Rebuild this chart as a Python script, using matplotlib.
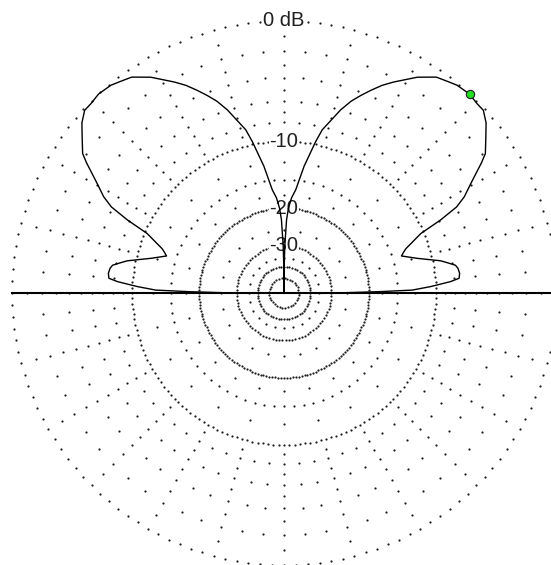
"""Elevation pattern on an ARRL log polar grid."""
import numpy as np
import matplotlib
matplotlib.use("Agg")
import matplotlib.pyplot as plt

# pattern, elevation angle (deg) vs gain (dB, 0 = max)
elev_deg = [0, 0.3, 0.8, 1.3, 2.5, 3.9, 4.8, 6.4, 8.1, 9.2,
            10.4, 11.6, 14.6, 17.5, 19, 20, 23.5, 25, 26.5, 28.1,
            30.4, 33.4, 34.7, 37.7, 40.1, 42.5, 44.5, 47, 50.2, 52.4,
            54.8, 58.3, 62.5, 64.7, 66.8, 68.8, 70.7, 72.8, 74.8, 76.8,
            78.2, 81, 83.5, 85.5, 87, 88, 89, 89.6, 90,
            90.4, 91, 92, 93, 94.5, 96.5, 99, 101.8, 103.2, 105.2,
            107.2, 109.3, 111.2, 113.2, 115.3, 117.5, 121.7, 125.2, 127.6, 129.8,
            133, 135.5, 137.5, 139.9, 142.3, 145.3, 146.6, 149.6, 151.9, 153.5,
            155, 156.5, 160, 161, 162.5, 165.4, 168.4, 169.6, 170.8, 171.9,
            173.6, 175.2, 176.1, 177.5, 178.7, 179.2, 179.7, 180]
gain_db = [-33, -25.4, -18.1, -12.9, -10.6, -8.4, -7.5, -7.4, -7.5, -7.7,
           -8.4, -9.1, -11.7, -13.6, -13.1, -12.7, -10.3, -7.8, -5.9, -4.9,
           -3.9, -2.4, -1.8, -1.1, -0.5, -0.1, -0.1, 0, -0.1, -0.3,
           -0.5, -1.2, -2.3, -2.9, -3.6, -4.3, -5.0, -6.0, -7.2, -8.3,
           -9.7, -12.9, -16.5, -18.0, -20.0, -22.5, -30, -40, -99,
           -40, -30, -22.5, -20.0, -18.0, -16.5, -12.9, -9.7, -8.3, -7.2,
           -6.0, -5.0, -4.3, -3.6, -2.9, -2.3, -1.2, -0.5, -0.3, -0.1,
           0, -0.1, -0.1, -0.5, -1.1, -1.8, -2.4, -3.9, -4.9, -5.9,
           -7.8, -10.3, -12.7, -13.1, -13.6, -11.7, -9.1, -8.4, -7.7, -7.5,
           -7.4, -7.5, -8.4, -10.6, -12.9, -18.1, -25.4, -33]
max_elev = 47
max_gain = 0

label_db = [0, -10, -20, -30]
label_text = ["0 dB", "-10", "-20", "-30"]

# grid rings: dB level and angular spacing of their dots (deg)
dense_db = [-10, -20, -30, -40, -50]
dense_step = [2, 2, 4, 6, 11]
sparse_db = [0, -1, -2, -3, -4, -5, -6, -7, -8, -9,
             -12.5, -15, -17.5, -25, -35]
sparse_step = [2.5, 15, 5, 15, 5, 15, 5, 15, 5, 15,
               15, 5, 15, 15, 15]


def arrl(db):
    # ARRL log scale: radius shrinks by 0.89 every 2 dB
    return 0.89 ** (-np.asarray(db, dtype=float) / 2)


def ring_dots(ax, db, step):
    th = np.deg2rad(np.arange(0, 360, step))
    ax.plot(th, np.full_like(th, arrl(db)), ls="none", marker="o", ms=1.6,
            mew=0, color="#1e1e1e", clip_on=False, zorder=1)


fig = plt.figure(figsize=(5.51, 5.65), dpi=100)
ax = fig.add_axes([12 / 551, 0, 544 / 551, 544 / 565], projection="polar")
ax.set_ylim(0, 1)
ax.set_axis_off()

for db, st in zip(sparse_db, sparse_step):
    ring_dots(ax, db, st)
for db, st in zip(dense_db, dense_step):
    ring_dots(ax, db, st)

# horizon
ax.plot([np.pi, np.pi], [1, 0], color="black", lw=1.5, zorder=2, clip_on=False)
ax.plot([0, 0], [0, 1], color="black", lw=1.5, zorder=2, clip_on=False)

for db, txt in zip(label_db, label_text):
    ax.text(np.pi / 2, arrl(db), txt, ha="center", va="center", fontsize=14.5,
            family="Liberation Sans", color="#202020", zorder=3,
            bbox=dict(facecolor="white", edgecolor="none", pad=0.5))

ax.plot(np.deg2rad(elev_deg), arrl(gain_db), color="black", lw=1.0,
        zorder=4, clip_on=False)
ax.plot(np.deg2rad(max_elev), arrl(max_gain), marker="o", ms=6,
        mfc="#22dd22", mec="#202020", mew=0.8, zorder=5, clip_on=False)

fig.savefig("out.png", dpi=100)
